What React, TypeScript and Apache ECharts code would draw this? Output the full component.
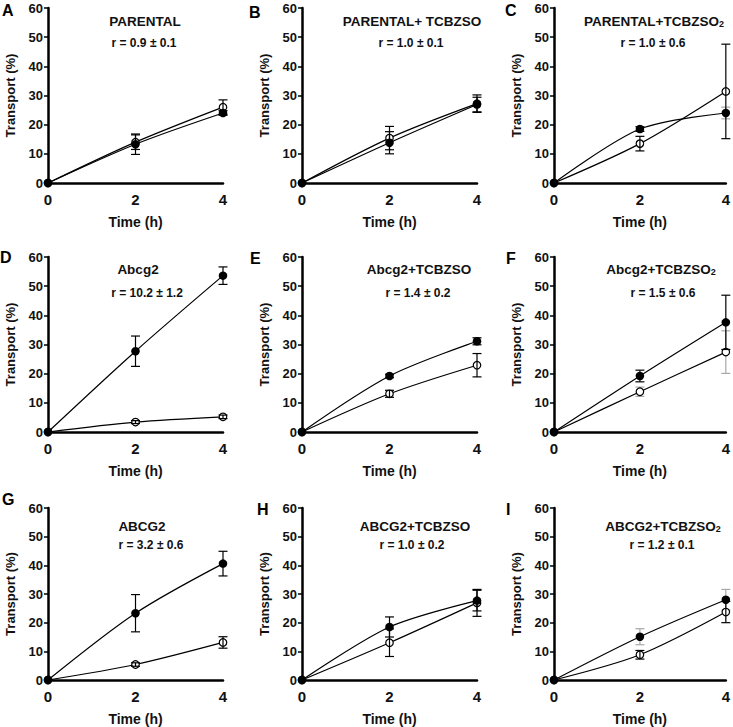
import React, { useEffect, useRef } from "react";
import * as echarts from "echarts";

// ---------- data ----------
const times = [0, 2, 4];
const panelLetters = ["A", "B", "C", "D", "E", "F", "G", "H", "I"];
const titleMain = [
  "PARENTAL", "PARENTAL+ TCBZSO", "PARENTAL+TCBZSO",
  "Abcg2", "Abcg2+TCBZSO", "Abcg2+TCBZSO",
  "ABCG2", "ABCG2+TCBZSO", "ABCG2+TCBZSO",
];
const titleSub = ["", "", "2", "", "", "2", "", "", "2"];
const rates = [
  "r = 0.9 ± 0.1", "r = 1.0 ± 0.1", "r = 1.0 ± 0.6",
  "r = 10.2 ± 1.2", "r = 1.4 ± 0.2", "r = 1.5 ± 0.6",
  "r = 3.2 ± 0.6", "r = 1.0 ± 0.2", "r = 1.2 ± 0.1",
];
const filledMean = [
  [0, 13.3, 24.0], [0, 13.8, 26.9], [0, 18.5, 24.0],
  [0, 27.7, 53.6], [0, 19.2, 31.1], [0, 19.2, 37.6],
  [0, 23.3, 40.6], [0, 18.5, 27.7], [0, 15.1, 28.0],
];
const filledErr = [
  [0, 3.5, 0.8], [0, 3.8, 2.5], [0, 0.8, 2.0],
  [0, 5.2, 3.0], [0, 0.6, 1.2], [0, 2.0, 9.3],
  [0, 6.5, 4.3], [0, 3.5, 3.6], [0, 2.8, 3.6],
];
const openMean = [
  [0, 14.0, 26.0], [0, 15.4, 27.2], [0, 13.5, 31.4],
  [0, 3.4, 5.2], [0, 13.1, 22.9], [0, 13.8, 27.4],
  [0, 5.4, 13.1], [0, 13.0, 26.9], [0, 8.8, 23.7],
];
const openErr = [
  [0, 2.5, 2.5], [0, 4.0, 3.0], [0, 2.5, 16.2],
  [0, 0.5, 0.6], [0, 1.2, 4.0], [0, 1.6, 7.3],
  [0, 0.6, 2.0], [0, 4.8, 4.7], [0, 1.5, 3.7],
];
const greyErrorBars = ["C:filled:4", "F:open:2", "F:open:4", "I:filled:2", "I:filled:4"];
const yMin = 0, yMax = 60, yStep = 10;
const xMin = 0, xMax = 4, xStep = 2;

// ---------- layout ----------
const colLeft = [48, 302, 554];
const colWidth = [175, 175, 174];
const rowTop = [8, 257, 508];
const rowHeight = 175;
const titleX = [145, 412, 654, 138, 419, 661, 142, 415, 663];
const rateX = [144, 411, 653, 147, 418, 663, 151, 412, 662];
const titleY = [20, 268, 525];
const rateY = [43, 293, 545];
const letterPos = [
  [2, 2], [249, 4], [505, 2],
  [0, 249], [250, 250], [506, 250],
  [2, 491], [257, 501], [506, 501],
];

const FONT = "'Liberation Sans', Arial, sans-serif";

function buildOption() {
  const grid: any[] = [];
  const xAxis: any[] = [];
  const yAxis: any[] = [];
  const series: any[] = [];
  const graphic: any[] = [];

  for (let p = 0; p < 9; p++) {
    const r = Math.floor(p / 3), c = p % 3;
    grid.push({ left: colLeft[c], top: rowTop[r], width: colWidth[c], height: rowHeight, containLabel: false });
    xAxis.push({
      gridIndex: p, type: "value", min: xMin, max: xMax, interval: xStep,
      name: "Time (h)", nameLocation: "middle", nameGap: 32,
      nameTextStyle: { fontFamily: FONT, fontWeight: "bold", fontSize: 14, color: "#111" },
      axisLine: { show: true, onZero: false, lineStyle: { color: "#000", width: 2.5 } },
      axisTick: { show: false },
      axisLabel: { fontFamily: FONT, fontWeight: "bold", fontSize: 15, color: "#111", margin: 9 },
      splitLine: { show: false },
    });
    yAxis.push({
      gridIndex: p, type: "value", min: yMin, max: yMax, interval: yStep,
      name: "Transport (%)", nameLocation: "middle", nameGap: 31,
      nameTextStyle: { fontFamily: FONT, fontWeight: "bold", fontSize: 13, color: "#111" },
      axisLine: { show: true, lineStyle: { color: "#000", width: 2.5 } },
      axisTick: { show: true, length: 4, lineStyle: { color: "#000", width: 1.5 } },
      axisLabel: { fontFamily: FONT, fontWeight: "bold", fontSize: 13, color: "#111", margin: 5 },
      splitLine: { show: false },
    });

    const L = panelLetters[p];
    const mk = (arr: number[]) => times.map((t, i) => [t, arr[i]]);
    series.push({
      type: "line", xAxisIndex: p, yAxisIndex: p, data: mk(openMean[p]), smooth: 0.3,
      symbol: "circle", symbolSize: 7.5, z: 2,
      lineStyle: { color: "#000", width: 1.2 },
      itemStyle: { color: "#fff", borderColor: "#000", borderWidth: 1.2 },
    });
    series.push({
      type: "line", xAxisIndex: p, yAxisIndex: p, data: mk(filledMean[p]), smooth: 0.3,
      symbol: "circle", symbolSize: 8.5, z: 2,
      lineStyle: { color: "#000", width: 1.2 },
      itemStyle: { color: "#000", borderColor: "#000", borderWidth: 0 },
    });

    const black: any[] = [], grey: any[] = [];
    const addBars = (means: number[], errs: number[], kind: string) => {
      times.forEach((t, i) => {
        if (!errs[i]) return;
        const row = [t, means[i] - errs[i], means[i] + errs[i]];
        if (greyErrorBars.includes(`${L}:${kind}:${t}`)) grey.push(row); else black.push(row);
      });
    };
    addBars(openMean[p], openErr[p], "open");
    addBars(filledMean[p], filledErr[p], "filled");

    const renderBar = (color: string) => (params: any, api: any) => {
      const x = api.value(0), lo = api.value(1), hi = api.value(2);
      const a = api.coord([x, hi]);
      const b = api.coord([x, lo]);
      const w = 4.5;
      const st = { stroke: color, lineWidth: 1.2 };
      return {
        type: "group",
        children: [
          { type: "line", shape: { x1: a[0], y1: a[1], x2: b[0], y2: b[1] }, style: st },
          { type: "line", shape: { x1: a[0] - w, y1: a[1], x2: a[0] + w, y2: a[1] }, style: st },
          { type: "line", shape: { x1: b[0] - w, y1: b[1], x2: b[0] + w, y2: b[1] }, style: st },
        ],
      };
    };
    series.push({
      type: "custom", xAxisIndex: p, yAxisIndex: p, data: grey, z: 1,
      renderItem: renderBar("#a8a8a8"), clip: false,
    });
    series.push({
      type: "custom", xAxisIndex: p, yAxisIndex: p, data: black, z: 3,
      renderItem: renderBar("#000"), clip: false,
    });

    const hasSub = !!titleSub[p];
    graphic.push({
      type: "text", x: titleX[p], y: titleY[r],
      style: {
        text: hasSub ? `{t|${titleMain[p]}}{s|${titleSub[p]}}` : `{t|${titleMain[p]}}`,
        textAlign: "center", textVerticalAlign: "middle", fill: "#111",
        rich: {
          t: { fontFamily: FONT, fontWeight: "bold", fontSize: 13.5, lineHeight: 16, verticalAlign: "bottom", fill: "#111" },
          s: { fontFamily: FONT, fontWeight: "bold", fontSize: 9, lineHeight: 8, verticalAlign: "bottom", fill: "#111" },
        },
      },
    });
    graphic.push({
      type: "text", x: rateX[p], y: rateY[r],
      style: {
        text: rates[p], textAlign: "center", textVerticalAlign: "middle", fill: "#111",
        font: `bold 12px ${FONT}`,
      },
    });
    graphic.push({
      type: "text", x: letterPos[p][0], y: letterPos[p][1],
      style: {
        text: L, textAlign: "left", textVerticalAlign: "top", fill: "#000",
        font: `bold 16px ${FONT}`,
      },
    });
  }

  return { animation: false, backgroundColor: "#fff", grid, xAxis, yAxis, series, graphic };
}

export default function App() {
  const ref = useRef<HTMLDivElement>(null);
  useEffect(() => {
    if (!ref.current) return;
    const chart = echarts.init(ref.current, null, { renderer: "svg" });
    chart.setOption(buildOption() as any);
    return () => chart.dispose();
  }, []);
  return (
    <div
      ref={ref}
      style={{ position: "fixed", left: 0, top: 0, width: 733, height: 727, background: "#fff" }}
    />
  );
}
